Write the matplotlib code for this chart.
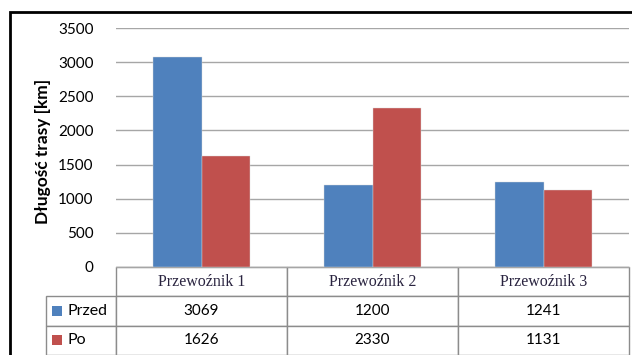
import matplotlib.pyplot as plt
from matplotlib.patches import Rectangle
from matplotlib.table import Table
import numpy as np

# Długość trasy przed i po optymalizacji dla każdego przewoźnika
kategorie = ['Przewoźnik 1', 'Przewoźnik 2', 'Przewoźnik 3']
serie = ['Przed', 'Po']
przed = [3069, 1200, 1241]
po = [1626, 2330, 1131]
kolory = ['#4F81BD', '#C0504D']
y_ticks = [0, 500, 1000, 1500, 2000, 2500, 3000, 3500]

plt.rcParams['font.family'] = ['Lato', 'DejaVu Sans']

fig = plt.figure(figsize=(6.32, 3.55), dpi=100)
ax = fig.add_axes([116 / 632, 1 - 267 / 355, 513 / 632, 239 / 355])

x = np.arange(len(kategorie))
szer = 0.285
for i, (wart, kolor) in enumerate(zip([przed, po], kolory)):
    ax.bar(x + (i - 0.5) * szer, wart, szer, color=kolor,
           edgecolor='#d9d9d9', linewidth=0.3, zorder=3)

ax.set_xlim(-0.5, len(kategorie) - 0.5)
ax.set_ylim(0, 3500)
ax.set_yticks(y_ticks)
ax.set_yticklabels([str(t) for t in y_ticks], fontsize=11)
ax.set_xticks([])
ax.tick_params(axis='y', length=0, pad=16)
ax.grid(axis='y', color='#a6a6a6', linewidth=1, zorder=0)
for s in ['top', 'right', 'left']:
    ax.spines[s].set_visible(False)
ax.spines['bottom'].set_color('#a6a6a6')

ax.set_ylabel('Długość trasy [km]', fontsize=12.5, fontweight='bold')
ax.yaxis.set_label_coords(-0.127, 0.483)

# tabela danych pod wykresem (bbox obejmuje kolumny z danymi,
# kolumna z nazwami serii wystaje w lewo)
wiersze = [[str(v) for v in przed], [str(v) for v in po]]
h = 88 / 239 / 3
tab = Table(ax, bbox=[0, -88 / 239, 1, 88 / 239])
tab.auto_set_font_size(False)
for c, nazwa in enumerate(kategorie):
    cell = tab.add_cell(0, c, 1 / 3, h, text=nazwa, loc='center')
    cell.get_text().set_fontfamily('Liberation Serif')
    cell.get_text().set_fontsize(11.5)
    cell.get_text().set_color('#2a2440')
for r, (s, wiersz) in enumerate(zip(serie, wiersze), start=1):
    cell = tab.add_cell(r, -1, 70 / 513, h, text=s, loc='left')
    cell.PAD = 0.31
    cell.get_text().set_fontsize(11.5)
    for c, v in enumerate(wiersz):
        cell = tab.add_cell(r, c, 1 / 3, h, text=v, loc='center')
        cell.get_text().set_fontsize(11)
for cell in tab.get_celld().values():
    cell.set_edgecolor('#8c8c8c')
    cell.set_linewidth(1)
ax.add_table(tab)

# kwadraty legendy w etykietach wierszy
for i, kolor in enumerate(kolory):
    yk = 1 - (296 + 29 * i + 14.5) / 355
    fig.patches.append(Rectangle((52 / 632, yk - 5 / 355), 10 / 632, 10 / 355,
                                 transform=fig.transFigure, facecolor=kolor,
                                 edgecolor='none'))

# ramka wokół całego wykresu
fig.patches.append(Rectangle((10 / 632, -0.05), 1.1, 1 - 12 / 355 + 0.05,
                             transform=fig.transFigure, fill=False,
                             edgecolor='black', linewidth=2))

fig.savefig('out.png', dpi=100)
